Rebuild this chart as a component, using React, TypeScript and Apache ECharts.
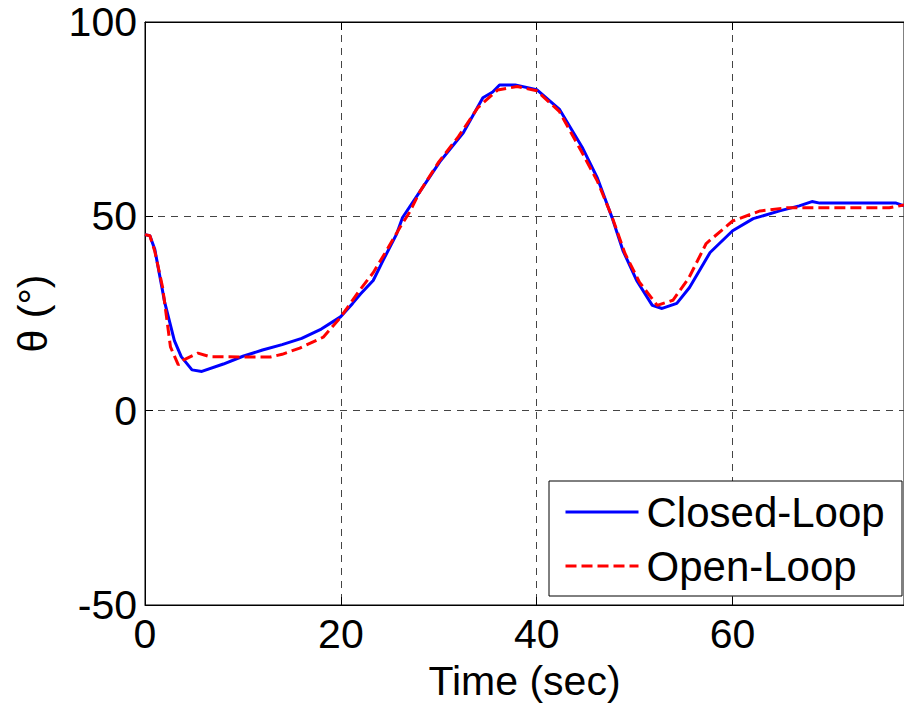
import React, { useEffect, useRef } from "react";
import * as echarts from "echarts";

const closedT = [0, 0.5, 1, 2, 3, 3.7, 4.8, 5.8, 8, 10, 12, 14, 16, 18, 20, 21.2, 22, 23.3, 24.3, 25.7, 26.3, 28.1, 30.1, 32.5, 34.5, 35.5, 36.2, 37.8, 40, 42.3, 44.7, 46.2, 47.7, 48.8, 50.2, 51.8, 52.8, 54.3, 55.6, 57.7, 60, 62.1, 64.8, 66.8, 68.1, 68.9, 76.7, 77.5];
const closedTheta = [45.3, 45, 41.5, 28, 18, 13.9, 10.5, 10.1, 12, 14, 15.6, 17, 18.6, 21, 24.2, 27.6, 30, 33.5, 38.6, 45.5, 49.7, 56.5, 64, 71.5, 80.5, 82, 83.8, 83.8, 82.6, 77.6, 67.5, 59.8, 49.6, 41.2, 33.5, 27.1, 26.3, 27.6, 31.7, 40.7, 46.3, 49.4, 51.4, 52.7, 53.8, 53.4, 53.4, 52.7];

const openT = [0, 0.5, 1, 1.8, 2.6, 3.4, 3.9, 5.4, 6.6, 10, 12.8, 14, 15.8, 18.2, 19.9, 21.9, 23.3, 24.5, 26, 27, 28.1, 30, 32, 34, 36, 38, 40, 42.3, 44.5, 46.2, 47.7, 49, 50.5, 52.3, 53.9, 55.5, 57.3, 60, 62.8, 65.5, 76, 77.5];
const openTheta = [45.3, 45, 41, 31.7, 16.4, 11.8, 13, 14.8, 13.9, 13.8, 13.8, 14.5, 16.1, 18.9, 23.8, 30.9, 35.5, 40.5, 47, 51, 56.5, 64, 70.5, 78, 82.5, 83.4, 82.3, 77, 67, 59, 49.8, 40.5, 33, 27.1, 28.4, 34, 43, 48.8, 51.4, 52.2, 52.2, 52.9];

const seriesNames = ["Closed-Loop", "Open-Loop"];
const xTitle = "Time (sec)";
const yTitle = "θ (°)";

const FONT = "'Liberation Sans', Arial, sans-serif";
const BLUE = "#0000ff";
const RED = "#ff0000";

export default function App() {
  const ref = useRef<HTMLDivElement>(null);
  useEffect(() => {
    if (!ref.current) return;
    const chart = echarts.init(ref.current, undefined, { renderer: "svg" });
    const closed = closedT.map((t, i) => [t, closedTheta[i]]);
    const open = openT.map((t, i) => [t, openTheta[i]]);
    chart.setOption({
      animation: false,
      backgroundColor: "#ffffff",
      textStyle: { fontFamily: FONT },
      grid: {
        left: 145,
        top: 22,
        width: 759,
        height: 585,
        show: true,
        borderColor: "#000",
        borderWidth: 1,
        backgroundColor: "transparent",
      },
      xAxis: [
        {
          type: "value",
          min: 0,
          max: 77.5,
          interval: 20,
          name: xTitle,
          nameLocation: "middle",
          nameGap: 55,
          nameTextStyle: { fontSize: 41, color: "#000", fontFamily: FONT },
          axisLine: { show: true, onZero: false, lineStyle: { color: "#000", width: 1 } },
          axisTick: { show: true, inside: true, length: 8, lineStyle: { color: "#000" } },
          axisLabel: { fontSize: 41, color: "#000", margin: 8, showMaxLabel: false, fontFamily: FONT },
          splitLine: { show: true, lineStyle: { color: "#444", type: [7, 6], width: 1 } },
        },
        {
          type: "value",
          position: "top",
          min: 0,
          max: 77.5,
          interval: 20,
          axisLine: { show: true, onZero: false, lineStyle: { color: "#000", width: 1 } },
          axisTick: { show: true, inside: true, length: 8, lineStyle: { color: "#000" } },
          axisLabel: { show: false },
          splitLine: { show: false },
        },
      ],
      yAxis: [
        {
          type: "value",
          min: -50,
          max: 100,
          interval: 50,
          name: yTitle,
          nameLocation: "middle",
          nameGap: 92,
          nameRotate: 90,
          nameTextStyle: { fontSize: 41, color: "#000", fontFamily: FONT },
          axisLine: { show: true, onZero: false, lineStyle: { color: "#000", width: 1 } },
          axisTick: { show: true, inside: true, length: 8, lineStyle: { color: "#000" } },
          axisLabel: { fontSize: 41, color: "#000", margin: 8, fontFamily: FONT },
          splitLine: { show: true, lineStyle: { color: "#444", type: [7, 6], width: 1 } },
        },
      ],
      legend: {
        orient: "vertical",
        left: 564,
        top: 489,
        padding: 0,
        itemWidth: 73,
        itemHeight: 46,
        itemGap: 8,
        z: 10,
        textStyle: { fontSize: 42, color: "#000", fontFamily: FONT, padding: [0, 0, 0, 3], lineHeight: 46 },
        data: [
          {
            name: seriesNames[0],
            itemStyle: { opacity: 0 },
            lineStyle: { color: BLUE, width: 3, type: "solid" },
          },
          {
            name: seriesNames[1],
            itemStyle: { opacity: 0 },
            lineStyle: { color: RED, width: 3, type: [11, 5] },
          },
        ],
      },
      graphic: [
        {
          type: "rect",
          z: 5,
          shape: { x: 549, y: 481, width: 353, height: 115 },
          style: { fill: "#fff", stroke: "#000", lineWidth: 1 },
        },
      ],
      series: [
        {
          name: seriesNames[0],
          type: "line",
          data: closed,
          symbol: "none",
          smooth: false,
          lineStyle: { color: BLUE, width: 3 },
          itemStyle: { color: BLUE },
          clip: true,
        },
        {
          name: seriesNames[1],
          type: "line",
          data: open,
          symbol: "none",
          smooth: false,
          lineStyle: { color: RED, width: 3, type: [11, 5] },
          itemStyle: { color: RED },
          clip: true,
        },
      ],
    });
    return () => chart.dispose();
  }, []);
  return (
    <div
      ref={ref}
      style={{ position: "fixed", left: 0, top: 0, width: 904, height: 706, background: "#fff" }}
    />
  );
}
